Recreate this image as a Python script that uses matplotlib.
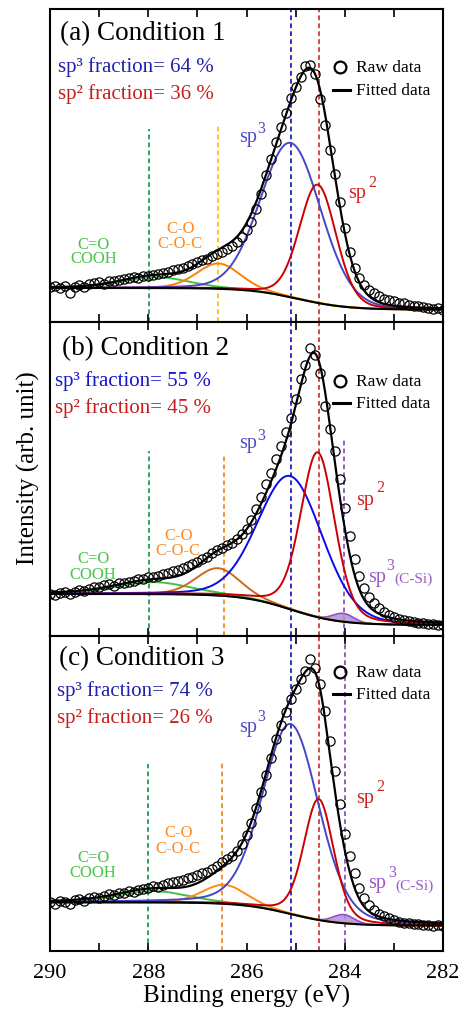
import numpy as np
import matplotlib
matplotlib.use("Agg")
import matplotlib.pyplot as plt

plt.rcParams['font.family'] = ['Liberation Serif', 'DejaVu Serif']

# binding energy grid of the raw spectra (eV)
energy = np.round(np.arange(290.0, 281.95, -0.1), 1)

# raw data (arb. units, 0 = bottom of each panel)
raw_a = [104, 107, 101, 108, 88, 106, 110, 105, 113, 116, 121, 114, 122, 124, 126, 129,
         131, 136, 133, 138, 137, 142, 144, 148, 151, 155, 160, 163, 169, 175, 181, 187,
         190, 198, 205, 211, 219, 229, 241, 256, 276, 300, 338, 385, 442, 490, 540, 585,
         628, 672, 705, 735, 768, 770, 745, 668, 590, 515, 445, 360, 282, 210, 162, 131,
         112, 97, 86, 77, 70, 66, 62, 58, 56, 52, 49, 47, 44, 43, 40, 42, 37]
raw_b = [126, 124, 129, 131, 127, 133, 138, 136, 141, 148, 146, 152, 155, 151, 160, 158,
         163, 166, 170, 172, 178, 176, 181, 185, 190, 194, 198, 203, 209, 216, 222, 230,
         238, 248, 258, 265, 272, 278, 290, 305, 322, 348, 382, 418, 455, 490, 530, 570,
         612, 655, 712, 770, 812, 865, 842, 790, 690, 620, 555, 470, 385, 300, 232, 180,
         145, 118, 98, 83, 72, 63, 56, 51, 47, 44, 42, 40, 38, 37, 35, 34, 32]
raw_c = [146, 142, 150, 148, 140, 152, 155, 151, 158, 162, 160, 166, 170, 168, 175, 174,
         180, 178, 184, 187, 190, 196, 193, 199, 203, 206, 210, 214, 218, 222, 227, 233,
         238, 245, 256, 268, 276, 285, 300, 320, 348, 385, 430, 478, 528, 580, 635, 678,
         718, 755, 785, 815, 840, 875, 850, 800, 720, 630, 540, 440, 350, 285, 235, 190,
         160, 138, 122, 112, 104, 98, 92, 88, 85, 83, 81, 80, 78, 77, 76, 77, 75]

# fitted peaks: C=O/COOH, C-O/C-O-C, sp3, sp2, sp3(C-Si)
cent_a = [287.85, 286.57, 285.10, 284.55]
height_a = [33, 76, 463, 355]
fwhm_a = [1.6, 1.05, 1.45, 0.88]
eta_a = [0.2, 0.2, 0.1, 0.15]
cent_b = [287.9, 286.58, 285.10, 284.55, 284.03]
height_b = [36, 82, 400, 495, 25]
fwhm_b = [1.8, 1.05, 1.55, 0.82, 0.5]
eta_b = [0.3, 0.2, 0.15, 0.25, 0.0]
cent_c = [287.9, 286.45, 285.10, 284.53, 284.02]
height_c = [34, 57, 570, 363, 26]
fwhm_c = [1.7, 1.05, 1.35, 0.72, 0.5]
eta_c = [0.3, 0.2, 0.2, 0.25, 0.0]
# background (left level, right level, step centre, step width)
bg_a = [102, 37, 284.95, 0.5]
bg_b = [126, 33, 285.10, 0.5]
bg_c = [146, 76, 285.10, 0.5]

sp3_frac = [64, 55, 74]
sp2_frac = [36, 45, 26]


def pvoigt(x, c, h, f, eta):
    g = np.exp(-4 * np.log(2) * (x - c) ** 2 / f ** 2)
    l = 1 / (1 + 4 * (x - c) ** 2 / f ** 2)
    return h * ((1 - eta) * g + eta * l)


def shirley(x, p):
    return p[1] + (p[0] - p[1]) / (1 + np.exp(-(x - p[2]) / p[3]))


xs = np.linspace(282, 290, 801)

fig = plt.figure(figsize=(4.63, 10.12), dpi=100)
L, W = 50 / 463, 393 / 463
axa = fig.add_axes([L, 1 - 323 / 1012, W, 313 / 1012])
axb = fig.add_axes([L, 1 - 637 / 1012, W, 314 / 1012])
axc = fig.add_axes([L, 1 - 952 / 1012, W, 315 / 1012])

panels = [
    (axa, raw_a, cent_a, height_a, fwhm_a, eta_a, bg_a, 939, '(a) Condition 1'),
    (axb, raw_b, cent_b, height_b, fwhm_b, eta_b, bg_b, 942, '(b) Condition 2'),
    (axc, raw_c, cent_c, height_c, fwhm_c, eta_c, bg_c, 945, '(c) Condition 3'),
]

green_c = '#45C045'
orange_curve = ['#FF8000', '#CC6A1A', '#FF8C10']
blue_curve = ['#4646C8', '#0A0AF0', '#4646C8']
red_c = '#CC0000'
purple_c = '#9050C0'
blue_txt = ['#2222A8', '#1515CC', '#2222A8']
red_txt = '#C41E1E'

# text positions per panel (eV, intensity)
title_pos = [(289.8, 849), (289.76, 846), (289.81, 861)]
frac_pos = [(289.84, 753, 672), (289.9, 753, 671), (289.86, 769, 688)]
sp3_lab = [(286.15, 544, 285.79, 570), (286.15, 567, 285.79, 591), (286.15, 659, 285.79, 694)]
sp2_lab = [(283.93, 374, 283.52, 409), (283.77, 396, 283.36, 436), (283.77, 446, 283.36, 484)]
csi_lab = [None, (283.52, 166, 283.15, 201, 282.98, 163), (283.53, 191, 283.12, 224, 282.96, 188)]
co_lab = [(287.35, 269, 224), (287.39, 291, 246), (287.39, 344, 298)]
cooh_lab = [(289.11, 222, 179), (289.12, 221, 173), (289.12, 271, 224)]
leg_y = [(765, 696), (764, 699), (838, 771)]
# dashed marker lines: (energy, colour, top end; None = full height)
vlines = [
    [(287.98, '#1E9E50', 579), (286.57, '#FFBF1F', 594), (285.09, '#2020C0', None), (284.52, '#D03838', None)],
    [(287.98, '#1E9E50', 555), (286.46, '#F08A24', 546), (285.1, '#2020C0', None), (284.52, '#D03838', None),
     (284.02, '#8855C0', 591)],
    [(288.0, '#1E9E50', 561), (286.5, '#F08A24', 570), (285.1, '#2020C0', None), (284.52, '#D03838', None),
     (284.0, '#8855C0', None)],
]

for i, (ax, raw, cen, hei, fw, et, bgp, ytop, title) in enumerate(panels):
    bg = shirley(xs, bgp)
    comps = [pvoigt(xs, cen[k], hei[k], fw[k], et[k]) for k in range(len(cen))]
    total = bg + sum(comps)

    for (xv, col, y1) in vlines[i]:
        top = ytop if y1 is None else y1
        ax.plot([xv, xv], [0, top], color=col, lw=1.3, ls=(0, (2.6, 1.8)), zorder=1)

    if len(cen) > 4:
        ax.fill_between(xs, bg, bg + comps[4], color='#B290E0', alpha=0.85, lw=0, zorder=2)
        ax.plot(xs, bg + comps[4], color=purple_c, lw=1.2, zorder=2)
    ax.plot(xs, bg + comps[0], color=green_c, lw=1.4, zorder=2)
    ax.plot(xs, bg + comps[1], color=orange_curve[i], lw=1.4, zorder=2)
    ax.plot(xs, bg + comps[2], color=blue_curve[i], lw=1.4, zorder=3)
    ax.plot(xs, bg + comps[3], color=red_c, lw=1.4, zorder=3)
    ax.plot(xs, bg, color='black', lw=1.5, zorder=3)

    ax.plot(energy, raw, 'o', mfc='none', mec='black', ms=6.6, mew=0.9, zorder=4)
    ax.plot(xs, total, color='black', lw=1.6, zorder=5)

    ax.set_xlim(290, 282)
    ax.set_ylim(0, ytop)
    ax.set_yticks([])
    ax.set_xticks(np.arange(282, 291, 1))
    ax.tick_params(axis='x', direction='in', top=True, bottom=True, length=6, width=1.2,
                   labelsize=16, pad=9)
    if i < 2:
        ax.tick_params(axis='x', labelbottom=False)
    else:
        ax.set_xticklabels(['282', '', '284', '', '286', '', '288', '', '290'])
    for s in ax.spines.values():
        s.set_linewidth(1.5)

    ax.text(title_pos[i][0], title_pos[i][1], title, fontsize=19.5, va='baseline')
    fx, fy1, fy2 = frac_pos[i]
    ax.text(fx, fy1, 'sp³ fraction= %d %%' % sp3_frac[i], fontsize=15, color=blue_txt[i], va='baseline')
    ax.text(fx, fy2, 'sp² fraction= %d %%' % sp2_frac[i], fontsize=15, color=red_txt, va='baseline')

    x1, y1, x2, y2 = sp3_lab[i]
    ax.text(x1, y1, 'sp', fontsize=14.5, color='#4B4BCC', va='baseline')
    ax.text(x2, y2, '3', fontsize=11.5, color='#4B4BCC', va='baseline')
    x1, y1, x2, y2 = sp2_lab[i]
    ax.text(x1, y1, 'sp', fontsize=14.5, color='#D42020', va='baseline')
    ax.text(x2, y2, '2', fontsize=11.5, color='#D42020', va='baseline')
    if csi_lab[i] is not None:
        x1, y1, x2, y2, x3, y3 = csi_lab[i]
        ax.text(x1, y1, 'sp', fontsize=14.5, color='#9B59C9', va='baseline')
        ax.text(x2, y2, '3', fontsize=11.5, color='#9B59C9', va='baseline')
        ax.text(x3, y3, '(C-Si)', fontsize=11, color='#9B59C9', va='baseline')

    cx, cy1, cy2 = co_lab[i]
    ax.text(cx, cy1, 'C-O', fontsize=12, color='#FF8A24', ha='center', va='baseline')
    ax.text(cx, cy2, 'C-O-C', fontsize=12, color='#FF8A24', ha='center', va='baseline')
    gx, gy1, gy2 = cooh_lab[i]
    ax.text(gx, gy1, 'C=O', fontsize=12, color='#4CC44C', ha='center', va='baseline')
    ax.text(gx, gy2, 'COOH', fontsize=12, color='#4CC44C', ha='center', va='baseline')

    ly1, ly2 = leg_y[i]
    ax.plot([284.1], [ly1], 'o', mfc='none', mec='black', ms=8.5, mew=1.6)
    ax.text(283.77, ly1, 'Raw data', fontsize=12.5, va='center')
    ax.plot([284.24, 283.89], [ly2, ly2], color='black', lw=2.2)
    ax.text(283.77, ly2, 'Fitted data', fontsize=12.5, va='center')

axc.set_xlabel('Binding energy (eV)', fontsize=18, labelpad=1)
fig.text(28 / 463, 1 - 468 / 1012, 'Intensity (arb. unit)', fontsize=18, rotation=90,
         ha='center', va='center')

fig.savefig('out.png', dpi=100)
